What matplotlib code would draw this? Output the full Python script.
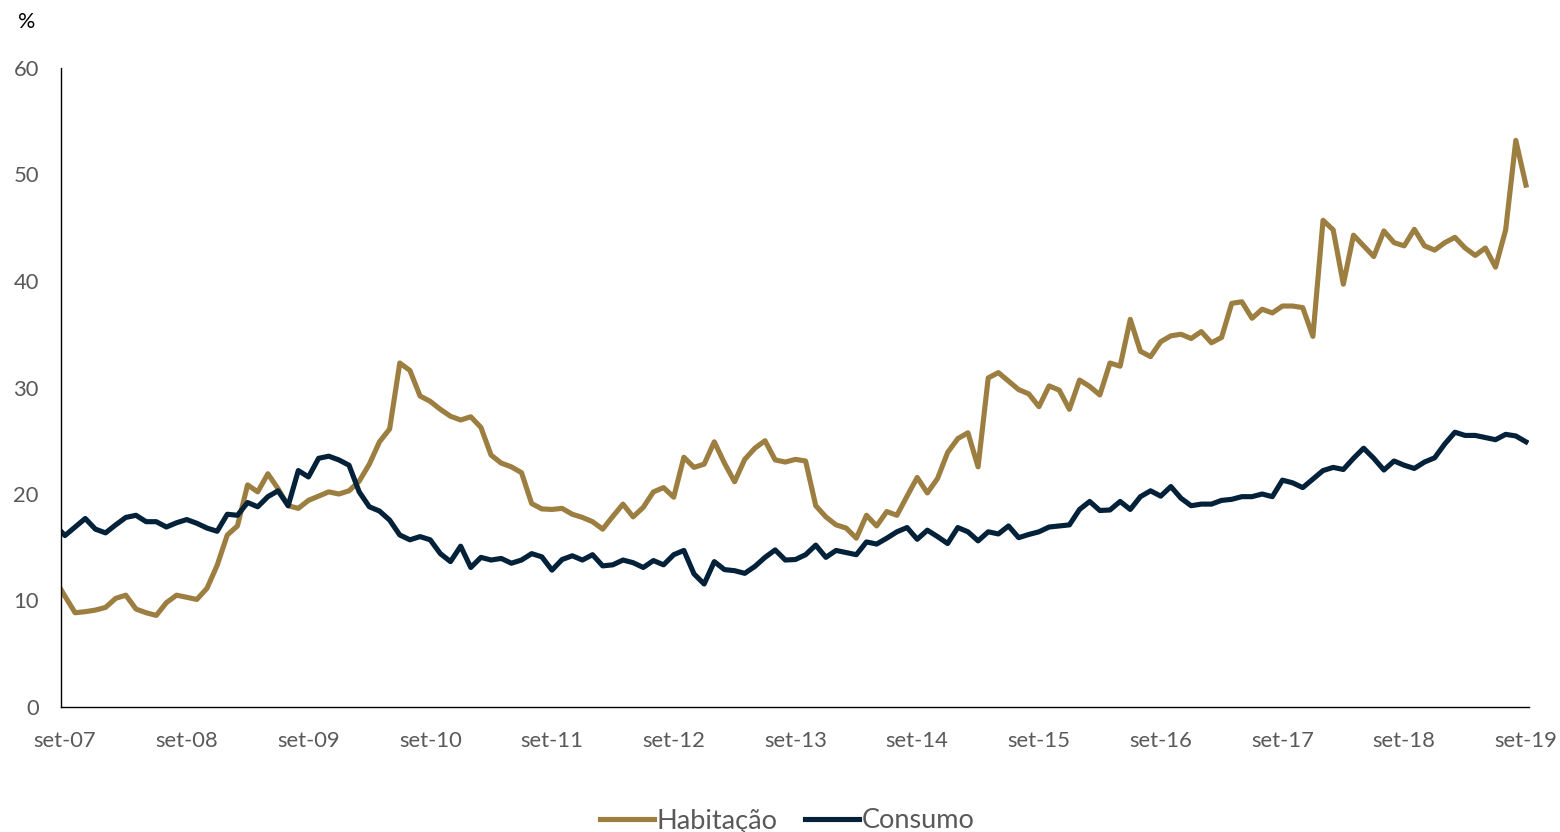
import numpy as np
import matplotlib
matplotlib.use("Agg")
import matplotlib.pyplot as plt

# Monthly series, starting ago-07 (index -1) through set-19 (index 144)
start_month = -1
habitacao = [12.0, 10.4, 8.85, 8.95, 9.1, 9.35, 10.2, 10.5, 9.2, 8.85, 8.6, 9.8, 10.5, 10.3, 10.1,
             11.15, 13.3, 16.15, 17.0, 20.85, 20.2, 21.9, 20.5, 18.9, 18.65, 19.4, 19.8, 20.2, 20.0,
             20.3, 21.2, 22.8, 24.9, 26.1, 32.3, 31.6, 29.2, 28.7, 27.95, 27.3, 26.95, 27.25, 26.25,
             23.65, 22.9, 22.55, 22.0, 19.1, 18.6, 18.55, 18.65, 18.1, 17.8, 17.4, 16.7, 17.9, 19.05,
             17.85, 18.75, 20.2, 20.6, 19.7, 23.45, 22.5, 22.8, 24.9, 22.9, 21.15, 23.25, 24.3, 25.0,
             23.2, 23.0, 23.25, 23.1, 18.9, 17.85, 17.1, 16.8, 15.85, 18.0, 17.0, 18.35, 18.0, 19.8,
             21.55, 20.1, 21.45, 23.9, 25.2, 25.75, 22.55, 30.9, 31.4, 30.6, 29.8, 29.4, 28.2, 30.15,
             29.75, 27.95, 30.7, 30.1, 29.3, 32.3, 32.0, 36.4, 33.4, 32.9, 34.3, 34.85, 35.0, 34.6,
             35.25, 34.2, 34.7, 37.9, 38.05, 36.5, 37.35, 37.0, 37.65, 37.65, 37.5, 34.8, 45.7, 44.8,
             39.7, 44.3, 43.3, 42.3, 44.7, 43.6, 43.3, 44.85, 43.3, 42.9, 43.6, 44.1, 43.1, 42.4,
             43.1, 41.3, 44.8, 53.2, 49.0]
consumo = [17.1, 16.1, 16.9, 17.7, 16.7, 16.35, 17.1, 17.8, 18.0, 17.4, 17.4, 16.9, 17.3, 17.6,
           17.25, 16.8, 16.5, 18.1, 18.0, 19.2, 18.8, 19.75, 20.3, 18.9, 22.2, 21.6, 23.35, 23.55,
           23.2, 22.7, 20.2, 18.8, 18.4, 17.55, 16.15, 15.7, 16.0, 15.7, 14.4, 13.65, 15.1, 13.1,
           14.05, 13.8, 13.95, 13.5, 13.8, 14.4, 14.1, 12.85, 13.85, 14.2, 13.8, 14.3, 13.25, 13.35,
           13.8, 13.55, 13.1, 13.75, 13.35, 14.3, 14.7, 12.5, 11.55, 13.65, 12.9, 12.8, 12.55, 13.2,
           14.05, 14.75, 13.8, 13.85, 14.3, 15.2, 14.05, 14.7, 14.5, 14.3, 15.5, 15.3, 15.85, 16.45,
           16.85, 15.75, 16.6, 16.0, 15.35, 16.85, 16.45, 15.6, 16.45, 16.25, 17.0, 15.9, 16.2,
           16.45, 16.9, 17.0, 17.1, 18.55, 19.3, 18.45, 18.5, 19.3, 18.55, 19.75, 20.3, 19.8, 20.7,
           19.6, 18.9, 19.05, 19.05, 19.4, 19.5, 19.75, 19.75, 20.0, 19.75, 21.3, 21.05, 20.6, 21.4,
           22.2, 22.5, 22.3, 23.35, 24.3, 23.35, 22.25, 23.1, 22.7, 22.4, 23.0, 23.4, 24.7, 25.8,
           25.5, 25.5, 25.3, 25.1, 25.6, 25.45, 24.9]
tick_labels = ["set-07", "set-08", "set-09", "set-10", "set-11", "set-12", "set-13",
               "set-14", "set-15", "set-16", "set-17", "set-18", "set-19"]
y_ticks = [0, 10, 20, 30, 40, 50, 60]

plt.rcParams['font.family'] = ['Lato', 'DejaVu Sans']

GOLD = "#9C7E40"
NAVY = "#04213A"
GRAY = "#595959"

months = np.arange(start_month, start_month + len(habitacao))

fig = plt.figure(figsize=(15.6, 8.32), dpi=100)
ax = fig.add_axes([61/1560, 125/832, (1529-61)/1560, (707-68)/832])

ax.plot(months, habitacao, color=GOLD, lw=3.7, solid_joinstyle='round', label="Habitação")
ax.plot(months, consumo, color=NAVY, lw=3.7, solid_joinstyle='round', label="Consumo")

ax.set_xlim(-0.39, 144.3)
ax.set_ylim(0, 60)
ax.set_xticks(np.arange(0, 12 * len(tick_labels), 12))
ax.set_xticklabels(tick_labels)
ax.set_yticks(y_ticks)
ax.tick_params(axis='both', length=0, labelsize=15.8, colors=GRAY)
ax.tick_params(axis='y', pad=16)
ax.tick_params(axis='x', pad=17)
for s in ['top', 'right']:
    ax.spines[s].set_visible(False)
for s in ['left', 'bottom']:
    ax.spines[s].set_color('black')
    ax.spines[s].set_linewidth(1.0)

fig.text(18/1560, 1 - 22/832, "%", fontsize=15.5, color='black', va='center', ha='left')

fig.legend(loc='center', bbox_to_anchor=(787/1560, 1 - 821/832), ncol=2, frameon=False,
           fontsize=19.5, handlelength=2.0, handletextpad=0.1, columnspacing=1.0,
           labelcolor=GRAY)

fig.savefig("out.png", dpi=100)
